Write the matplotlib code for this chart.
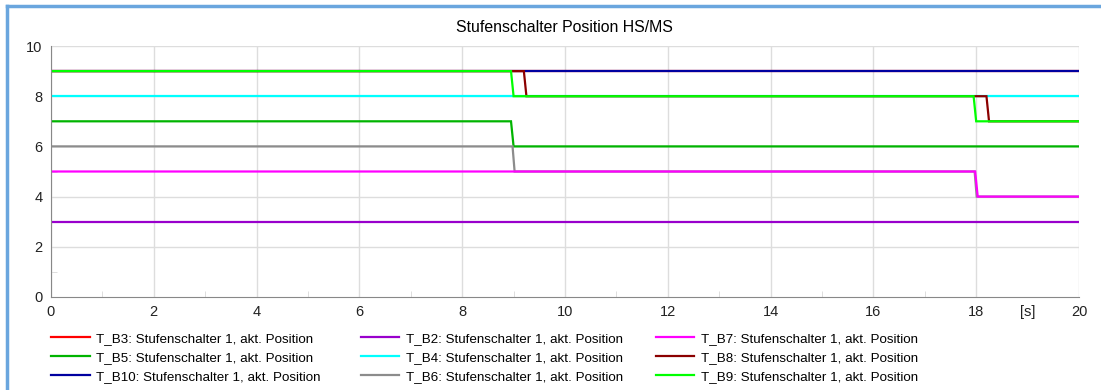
import matplotlib
matplotlib.use("Agg")
import matplotlib.pyplot as plt
from matplotlib.ticker import MultipleLocator, FixedLocator
from matplotlib.lines import Line2D

plt.rcParams["font.family"] = ["Liberation Sans", "DejaVu Sans"]

TITLE = "Stufenschalter Position HS/MS"
SUFFIX = ": Stufenschalter 1, akt. Position"

# step series (time [s], position); listed in legend order (column-major, 3 cols)
NAMES = ["T_B3", "T_B5", "T_B10", "T_B2", "T_B4", "T_B6", "T_B7", "T_B8", "T_B9"]
COLORS = ["#ff0000", "#00b400", "#0000a0", "#9900cc", "#00ffff",
          "#8c8c8c", "#ff00ff", "#8b0000", "#00ff00"]
T_B3_t, T_B3_y = [0, 20], [9, 9]
T_B5_t, T_B5_y = [0, 8.95, 9.0, 20], [7, 7, 6, 6]
T_B10_t, T_B10_y = [0, 20], [9, 9]
T_B2_t, T_B2_y = [0, 20], [3, 3]
T_B4_t, T_B4_y = [0, 20], [8, 8]
T_B6_t, T_B6_y = [0, 8.98, 9.02, 17.97, 18.01, 20], [6, 6, 5, 5, 4, 4]
T_B7_t, T_B7_y = [0, 17.98, 18.03, 20], [5, 5, 4, 4]
T_B8_t, T_B8_y = [0, 9.2, 9.25, 18.2, 18.25, 20], [9, 9, 8, 8, 7, 7]
T_B9_t, T_B9_y = [0, 8.95, 9.0, 17.95, 18.0, 20], [9, 9, 8, 8, 7, 7]
SERIES = [(T_B3_t, T_B3_y), (T_B5_t, T_B5_y), (T_B10_t, T_B10_y),
          (T_B2_t, T_B2_y), (T_B4_t, T_B4_y), (T_B6_t, T_B6_y),
          (T_B7_t, T_B7_y), (T_B8_t, T_B8_y), (T_B9_t, T_B9_y)]
XTICKS = [0, 2, 4, 6, 8, 10, 12, 14, 16, 18, 19, 20]
XTICKLABELS = ["0", "2", "4", "6", "8", "10", "12", "14", "16", "18", "[s]", "20"]

fig = plt.figure(figsize=(11.01, 3.9), dpi=100)
ax = fig.add_axes([0.0463, 0.2385, 0.9337, 0.6435])

for (t, y), c in zip(SERIES, COLORS):
    ax.plot(t, y, color=c, lw=1.6, solid_joinstyle="miter")

ax.set_xlim(0, 20); ax.set_ylim(0, 10)
ax.xaxis.set_major_locator(FixedLocator(XTICKS))
ax.set_xticklabels(XTICKLABELS)
ax.xaxis.set_minor_locator(FixedLocator([1, 3, 5, 7, 9, 11, 13, 15, 17]))
ax.yaxis.set_major_locator(MultipleLocator(2))
ax.yaxis.set_minor_locator(MultipleLocator(1))
ax.tick_params(which="major", length=0, labelsize=10.5, pad=6, colors="#222222")
ax.tick_params(which="minor", length=4, direction="in", color="#d8d8d8")
for v in range(0, 21, 2):
    ax.axvline(v, color="#dddddd", lw=1, zorder=0)
for v in range(2, 11, 2):
    ax.axhline(v, color="#dddddd", lw=1, zorder=0)
for s in ["top", "right"]:
    ax.spines[s].set_visible(False)
for s in ["left", "bottom"]:
    ax.spines[s].set_color("#888888")

fig.text(0.513, 0.93, TITLE, ha="center", va="center", fontsize=11.4)

# legend: three fixed-position columns of three entries
col_x = [0.0463, 0.3275, 0.5955]
for k, x0 in enumerate(col_x):
    idx = range(3 * k, 3 * k + 3)
    handles = [Line2D([], [], color=COLORS[i], lw=1.6) for i in idx]
    labels = [NAMES[i] + SUFFIX for i in idx]
    fig.legend(handles, labels, ncol=1, frameon=False,
               loc="upper left", bbox_to_anchor=(x0, 0.147), fontsize=9.6,
               handlelength=2.9, handletextpad=0.5, labelspacing=0.5,
               borderaxespad=0, borderpad=0)

# outer frame of the chart widget (left and top edges)
fig.add_artist(Line2D([0.006, 0.006], [0, 0.985], color="#6aa6de", lw=2.5,
                      transform=fig.transFigure))
fig.add_artist(Line2D([0.006, 1], [0.985, 0.985], color="#6aa6de", lw=2.5,
                      transform=fig.transFigure))

fig.savefig("out.png", dpi=100)
